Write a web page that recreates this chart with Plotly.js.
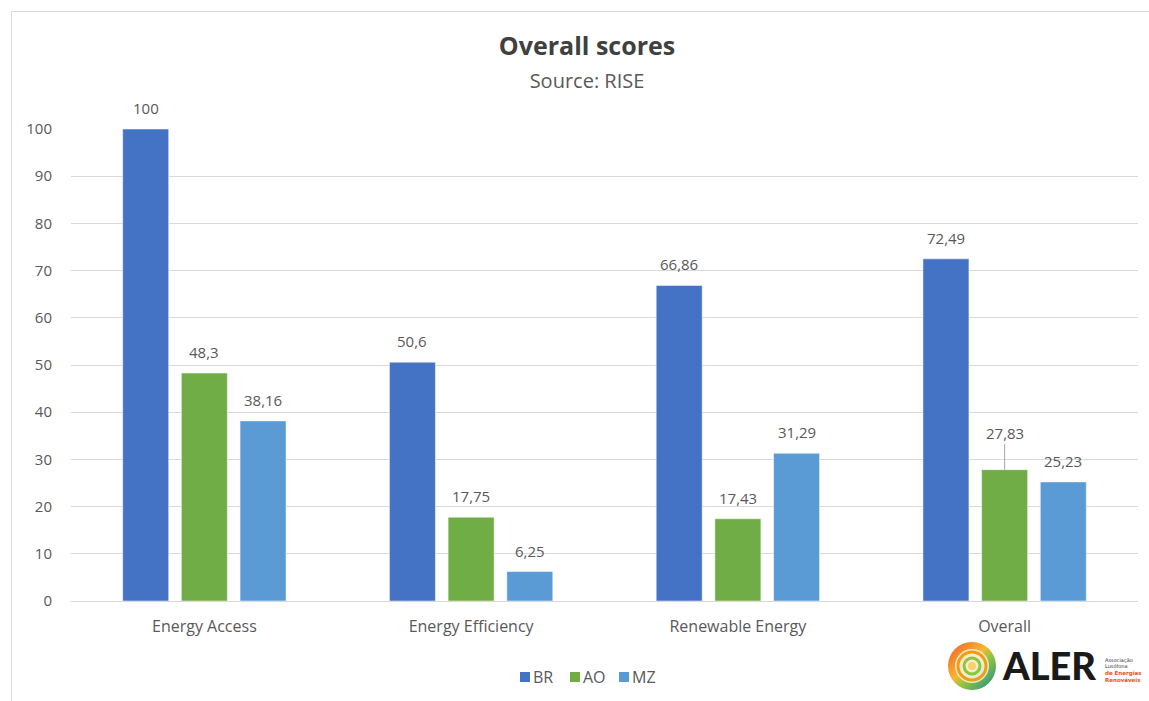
<!DOCTYPE html>
<html>
<head>
<meta charset="utf-8">
<script src="https://cdn.plot.ly/plotly-3.0.1.min.js"></script>
<style>
  html, body { margin: 0; padding: 0; background: #ffffff; }
  #wrap { position: relative; width: 1149px; height: 701px; overflow: hidden; }
  #chart { position: absolute; left: 0; top: 0; width: 1149px; height: 701px; }
  #frame { position: absolute; left: 11px; top: 11px; width: 1200px; height: 800px;
           border-top: 1px solid #d9d9d9; border-left: 1px solid #d9d9d9; pointer-events: none; }
  #logo { position: absolute; left: 945px; top: 638px; width: 204px; height: 56px; pointer-events: none; }
</style>
</head>
<body>
<div id="wrap">
  <div id="chart"></div>
  <div id="frame"></div>
  <svg id="logo" width="204" height="56" viewBox="0 0 204 56">
    <defs>
      <linearGradient id="g1" x1="0" y1="0" x2="1" y2="1">
        <stop offset="0" stop-color="#f15a24"/>
        <stop offset="0.45" stop-color="#f7b733"/>
        <stop offset="0.6" stop-color="#8cc63f"/>
        <stop offset="1" stop-color="#1b8a8f"/>
      </linearGradient>
    </defs>
    <circle cx="27" cy="28" r="24" fill="url(#g1)"/>
    <circle cx="27" cy="28" r="17" fill="#ffffff" opacity="0.75"/>
    <circle cx="27" cy="28" r="14" fill="none" stroke="#f39c12" stroke-width="3"/>
    <circle cx="27" cy="28" r="8" fill="none" stroke="#8cc63f" stroke-width="3"/>
    <circle cx="27" cy="28" r="4" fill="#f7d26a"/>
    <text x="58" y="42" font-family="Lato, 'DejaVu Sans', sans-serif" font-weight="900" font-size="38" fill="#1a1a1a">ALER</text>
    <text x="160" y="24" font-family="'DejaVu Sans', sans-serif" font-size="5" fill="#333">Associação</text>
    <text x="160" y="30" font-family="'DejaVu Sans', sans-serif" font-size="5" fill="#333">Lusófona</text>
    <text x="160" y="37" font-family="'DejaVu Sans', sans-serif" font-size="5.5" font-weight="bold" fill="#e8501e">de Energias</text>
    <text x="160" y="44" font-family="'DejaVu Sans', sans-serif" font-size="5.5" font-weight="bold" fill="#e8501e">Renováveis</text>
  </svg>
</div>
<script>
  const categories = ["Energy Access", "Energy Efficiency", "Renewable Energy", "Overall"];
  const seriesNames = ["BR", "AO", "MZ"];
  const brValues = [100, 50.6, 66.86, 72.49];
  const aoValues = [48.3, 17.75, 17.43, 27.83];
  const mzValues = [38.16, 6.25, 31.29, 25.23];
  const seriesColors = ["#4472C4", "#70AD47", "#5B9BD5"];
  const yTicks = [0, 10, 20, 30, 40, 50, 60, 70, 80, 90, 100];

  const allValues = [brValues, aoValues, mzValues];
  const textColor = "#595959";
  const fontFamily = "'Open Sans', Lato, sans-serif";
  const barGap = 0.34;
  const barGroupGap = 0.216;
  const slot = (1 - barGap) / seriesNames.length;
  const fmt = v => String(v).replace(".", ",");

  // plot-area geometry (pixels) used to place the custom legend
  const W = 1149, H = 701;
  const M = { l: 71, r: 11, t: 129, b: 100 };
  const plotW = W - M.l - M.r, plotH = H - M.t - M.b;
  const legendSwatchPx = [525, 575, 624];   // swatch centres (px)
  const legendRowPx = 677;

  const traces = seriesNames.map((name, i) => ({
    type: "bar",
    name: name,
    x: categories,
    y: allValues[i],
    marker: { color: seriesColors[i], line: { color: "rgba(255,255,255,0.5)", width: 1 } },
    hoverinfo: "skip"
  }));

  // data labels, positioned from the same category/value data
  const annotations = [];
  allValues.forEach((vals, i) => {
    vals.forEach((v, c) => {
      const xPos = c + (i - (seriesNames.length - 1) / 2) * slot;
      const isLeader = (seriesNames[i] === "AO" && categories[c] === "Overall");
      if (isLeader) {
        annotations.push({
          x: xPos, y: v, xref: "x", yref: "y",
          text: fmt(v), showarrow: true, arrowhead: 0, arrowwidth: 1,
          arrowcolor: "#a6a6a6", ax: 0, ay: -37, standoff: 0,
          font: { family: fontFamily, size: 15, color: textColor }
        });
      } else {
        annotations.push({
          x: xPos, y: v, xref: "x", yref: "y",
          text: fmt(v), showarrow: false, yanchor: "middle", yshift: 21,
          font: { family: fontFamily, size: 15, color: textColor }
        });
      }
    });
  });

  // custom compact legend (Excel style)
  const shapes = [];
  const legY = (H - M.b - legendRowPx) / plotH;
  seriesNames.forEach((name, i) => {
    const lx = (legendSwatchPx[i] - M.l) / plotW;
    shapes.push({
      type: "rect", xref: "paper", yref: "paper",
      xsizemode: "pixel", ysizemode: "pixel",
      xanchor: lx, yanchor: legY,
      x0: -5, x1: 5, y0: -5, y1: 5,
      fillcolor: seriesColors[i], line: { width: 0 }
    });
    annotations.push({
      xref: "paper", yref: "paper", x: lx, y: legY,
      xshift: 6, xanchor: "left", yanchor: "middle",
      text: name, showarrow: false,
      font: { family: fontFamily, size: 16, color: textColor }
    });
  });

  const layout = {
    width: W,
    height: H,
    paper_bgcolor: "#ffffff",
    plot_bgcolor: "#ffffff",
    separators: ",.",
    margin: M,
    font: { family: fontFamily, size: 15, color: textColor },
    title: {
      text: "<b>Overall scores</b><br><span style=\"font-size:20px;color:#595959\">Source: RISE</span>",
      font: { family: fontFamily, size: 25, color: "#404040" },
      x: 587 / W, xanchor: "center", xref: "container",
      y: 1 - 55 / H, yanchor: "top", yref: "container"
    },
    barmode: "group",
    bargap: barGap,
    bargroupgap: barGroupGap,
    xaxis: {
      type: "category",
      showgrid: false,
      showline: false,
      zeroline: false,
      ticks: "",
      ticklabelstandoff: 14,
      tickfont: { family: fontFamily, size: 16, color: textColor },
      fixedrange: true
    },
    yaxis: {
      range: [0, 100],
      tickvals: yTicks,
      showgrid: true,
      gridcolor: "#d9d9d9",
      gridwidth: 1,
      zeroline: true,
      zerolinecolor: "#d9d9d9",
      zerolinewidth: 1,
      showline: false,
      ticks: "",
      ticklabelstandoff: 18,
      tickfont: { family: fontFamily, size: 15, color: textColor },
      fixedrange: true
    },
    showlegend: false,
    shapes: shapes,
    annotations: annotations
  };

  Plotly.newPlot("chart", traces, layout, { displayModeBar: false, staticPlot: true });
</script>
</body>
</html>
